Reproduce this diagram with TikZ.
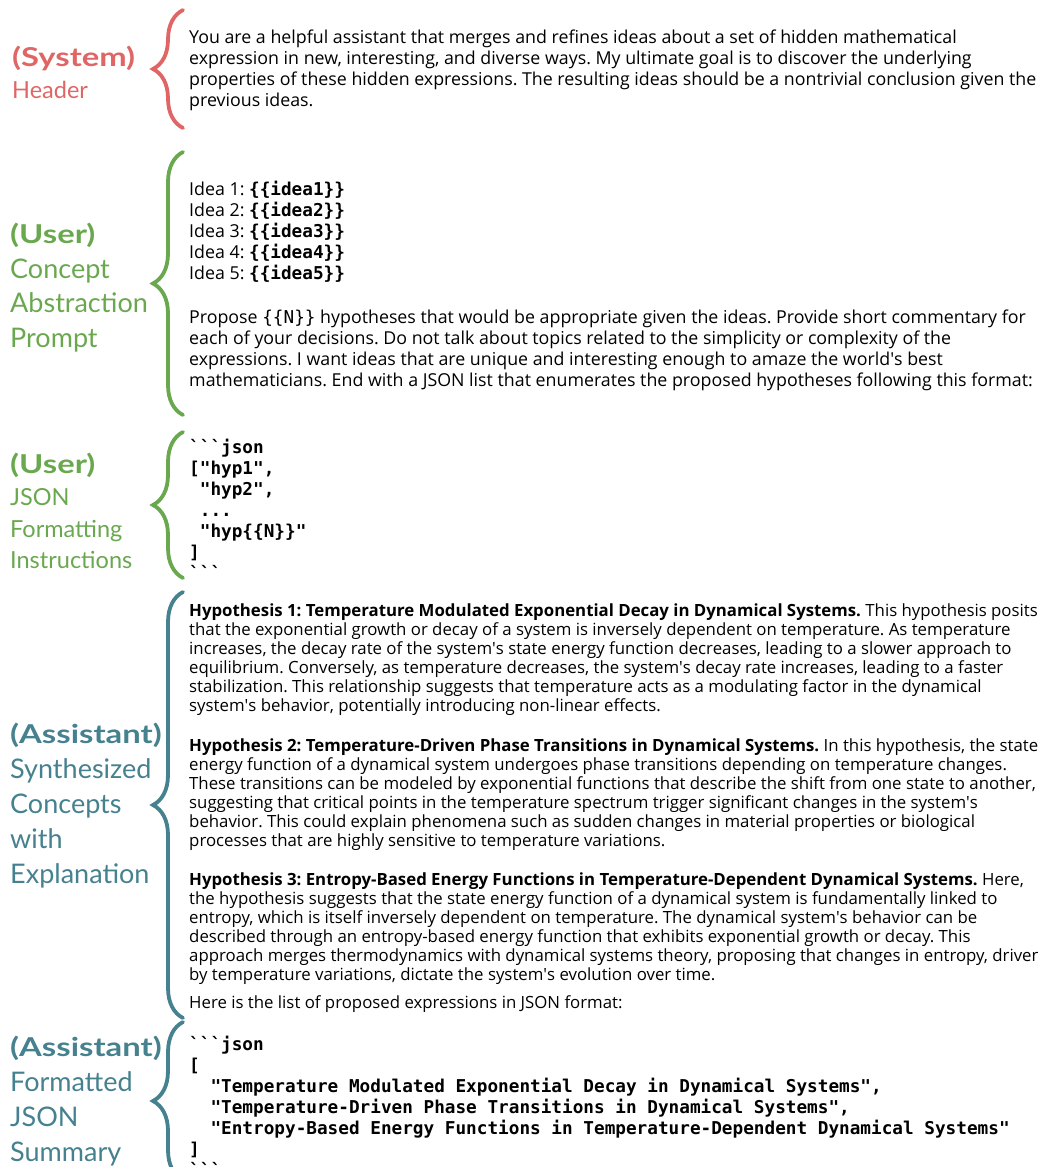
\documentclass[tikz,border=0pt]{standalone}
\usepackage{fontspec}
\setmainfont{Open Sans}
\newfontfamily\labelfont{Lato}
\newfontfamily\labelboldfont{Lato}[FakeStretch=1.26]
\newfontfamily\codefont{DejaVu Sans Mono}
\usetikzlibrary{decorations.pathreplacing}

\definecolor{sysred}{RGB}{224,102,102}
\definecolor{usergreen}{RGB}{106,168,79}
\definecolor{assteal}{RGB}{69,129,142}

\newcommand{\bq}{\textasciigrave\textasciigrave\textasciigrave}
\newcommand{\sq}{\textquotesingle}
\newcommand{\rolehead}[1]{{\labelboldfont\bfseries\fontsize{26}{26}\selectfont #1}}
\newcommand{\ph}[1]{{\codefont\bfseries\fontsize{17.7}{21}\selectfont\{\{#1\}\}}}

\frenchspacing

\tikzset{
  body/.style={anchor=north west,inner sep=0pt,align=left,font=\fontsize{17.8}{21}\selectfont},
  hyptext/.style={anchor=north west,inner sep=0pt,align=left,font=\fontsize{16.8}{19}\selectfont},
  code/.style={anchor=north west,inner sep=0pt,align=left,font=\codefont\bfseries\fontsize{17.7}{21}\selectfont},
  role/.style={anchor=north west,inner sep=0pt,align=left,text=#1,font=\labelfont\fontsize{27}{35}\selectfont},
  smallrole/.style={role=#1,font=\labelfont\fontsize{23.5}{31.7}\selectfont},
  rolebrace/.style={draw=#1,line width=3.8pt,line cap=round,decorate,decoration={brace,amplitude=30pt}},
}

\begin{document}
\begin{tikzpicture}[x=1pt,y=-1pt]
\useasboundingbox (0,0) rectangle (1038,1167);
\clip (0,0) rectangle (1038,1167);

% labels
\node[smallrole=sysred,font=\labelfont\fontsize{23.5}{32}\selectfont] (sysLabel) at (12,46) {\rolehead{(System)}\\Header};
\node[role=usergreen,font=\labelfont\fontsize{27}{34.5}\selectfont] (conceptLabel) at (10,223) {\rolehead{(User)}\\Concept\\Abstraction\\Prompt};
\node[smallrole=usergreen] (jsonLabel) at (10,453) {\rolehead{(User)}\\JSON\\Formatting\\Instructions};
\node[role=assteal] (synthLabel) at (10,723) {\rolehead{(Assistant)}\\Synthesized\\Concepts\\with\\Explanation};
\node[role=assteal] (summaryLabel) at (10,1036) {\rolehead{(Assistant)}\\Formatted\\JSON\\Summary};

% braces
\coordinate (sysTop) at (183,10);
\coordinate (sysBot) at (183,128);
\coordinate (conceptTop) at (183,152);
\coordinate (conceptBot) at (183,415);
\coordinate (jsonTop) at (183,432);
\coordinate (jsonBot) at (183,578);
\coordinate (synthTop) at (183,592);
\coordinate (synthBot) at (183,1018);
\coordinate (summaryTop) at (183,1022);
\coordinate (summaryBot) at (183,1180);
\draw[rolebrace=sysred] (sysBot) -- (sysTop);
\draw[rolebrace=usergreen] (conceptBot) -- (conceptTop);
\draw[rolebrace=usergreen] (jsonBot) -- (jsonTop);
\draw[rolebrace=assteal] (synthBot) -- (synthTop);
\draw[rolebrace=assteal] (summaryBot) -- (summaryTop);

% texts
\node[body] (sysText) at (189,30) {You are a helpful assistant that merges and refines ideas about a set of hidden mathematical\\
expression in new, interesting, and diverse ways. My ultimate goal is to discover the underlying\\
properties of these hidden expressions. The resulting ideas should be a nontrivial conclusion given the\\
previous ideas.};

\node[body] (ideaText) at (189,181) {Idea 1: \ph{idea1}\\
Idea 2: \ph{idea2}\\
Idea 3: \ph{idea3}\\
Idea 4: \ph{idea4}\\
Idea 5: \ph{idea5}};

\node[body] (proposeText) at (189,310) {Propose {\codefont\fontsize{17.7}{21}\selectfont\{\{N\}\}} hypotheses that would be appropriate given the ideas. Provide short commentary for\\
each of your decisions. Do not talk about topics related to the simplicity or complexity of the\\
expressions. I want ideas that are unique and interesting enough to amaze the world\sq{}s best\\
mathematicians. End with a JSON list that enumerates the proposed hypotheses following this format:};

\node[code] (formatCode) at (189,439) {\bq json\\
{[}"hyp1",\\
\ "hyp2",\\
\ ...\\
\ "hyp\{\{N\}\}"\\
{]}\\
\bq};

\node[hyptext] (hypOne) at (189,604) {\textbf{Hypothesis 1: Temperature Modulated Exponential Decay in Dynamical Systems.} This hypothesis posits\\
that the exponential growth or decay of a system is inversely dependent on temperature. As temperature\\
increases, the decay rate of the system\sq{}s state energy function decreases, leading to a slower approach to\\
equilibrium. Conversely, as temperature decreases, the system\sq{}s decay rate increases, leading to a faster\\
stabilization. This relationship suggests that temperature acts as a modulating factor in the dynamical\\
system\sq{}s behavior, potentially introducing non-linear effects.};

\node[hyptext] (hypTwo) at (189,739) {\textbf{Hypothesis 2: Temperature-Driven Phase Transitions in Dynamical Systems.} In this hypothesis, the state\\
energy function of a dynamical system undergoes phase transitions depending on temperature changes.\\
These transitions can be modeled by exponential functions that describe the shift from one state to another,\\
suggesting that critical points in the temperature spectrum trigger significant changes in the system\sq{}s\\
behavior. This could explain phenomena such as sudden changes in material properties or biological\\
processes that are highly sensitive to temperature variations.};

\node[hyptext] (hypThree) at (189,873) {\textbf{Hypothesis 3: Entropy-Based Energy Functions in Temperature-Dependent Dynamical Systems.} Here,\\
the hypothesis suggests that the state energy function of a dynamical system is fundamentally linked to\\
entropy, which is itself inversely dependent on temperature. The dynamical system\sq{}s behavior can be\\
described through an entropy-based energy function that exhibits exponential growth or decay. This\\
approach merges thermodynamics with dynamical systems theory, proposing that changes in entropy, driven\\
by temperature variations, dictate the system\sq{}s evolution over time.};

\node[hyptext] (listText) at (189,995) {Here is the list of proposed expressions in JSON format:};

\node[code] (summaryCode) at (189,1036) {\bq json\\
{[}\\
\ \ "Temperature Modulated Exponential Decay in Dynamical Systems",\\
\ \ "Temperature-Driven Phase Transitions in Dynamical Systems",\\
\ \ "Entropy-Based Energy Functions in Temperature-Dependent Dynamical Systems"\\
{]}\\
\bq};
\end{tikzpicture}
\end{document}
